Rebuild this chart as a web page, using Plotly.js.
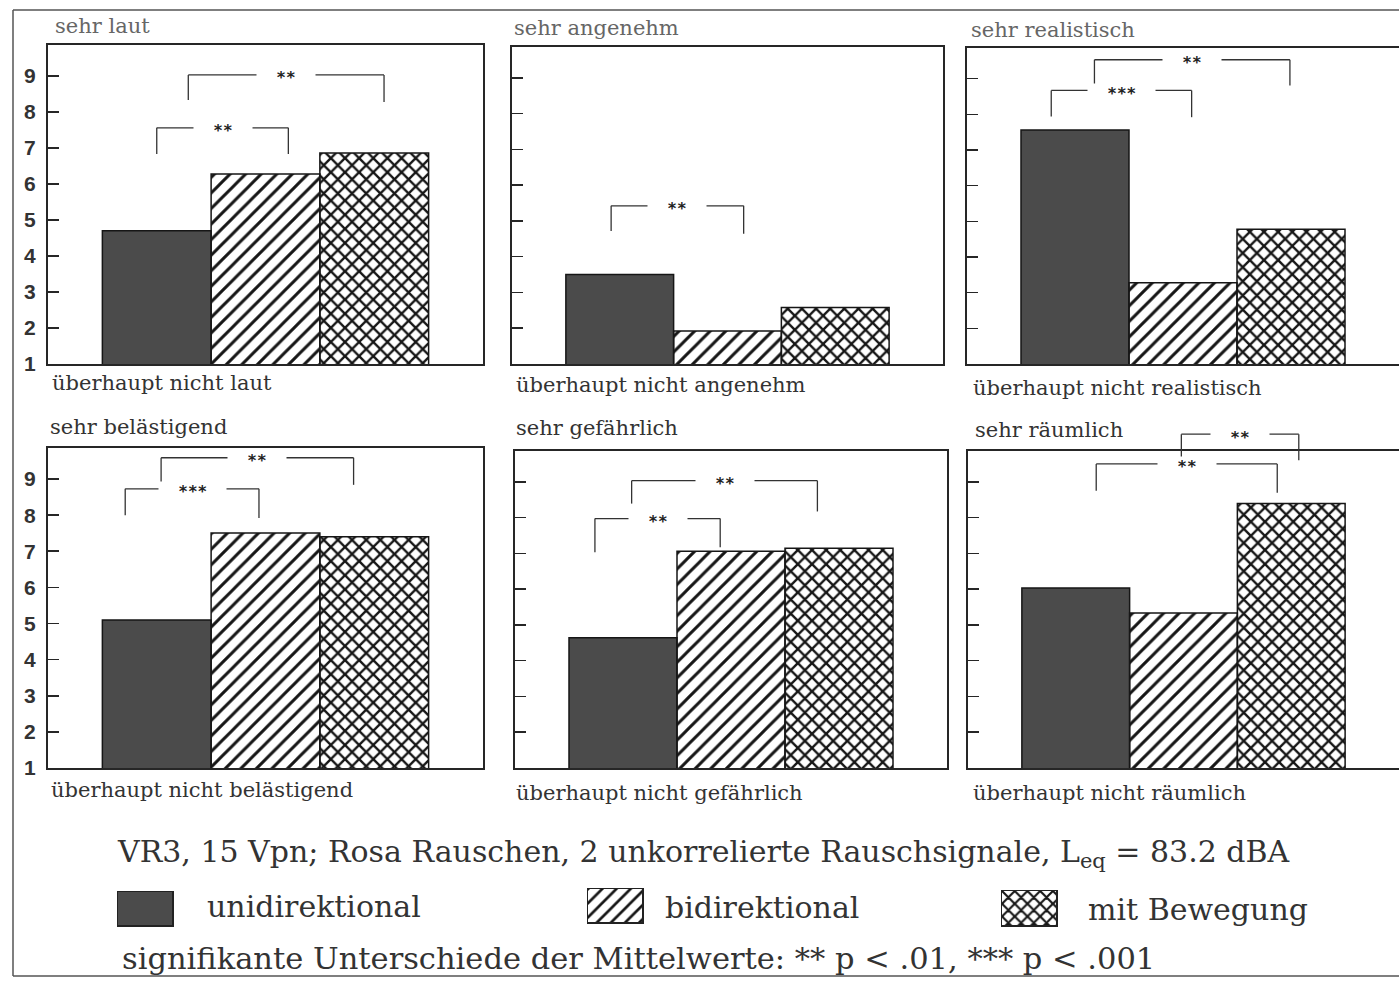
<!DOCTYPE html>
<html><head><meta charset="utf-8">
<script src="https://cdn.plot.ly/plotly-3.0.1.min.js"></script>
<style>html,body{margin:0;padding:0;background:#fff}#chart{width:1399px;height:988px}</style>
</head><body><div id="chart"></div>
<script>
// ---------------- data ----------------
const series = ['unidirektional', 'bidirektional', 'mit Bewegung'];
const topLabels = ['sehr laut', 'sehr angenehm', 'sehr realistisch', 'sehr belästigend', 'sehr gefährlich', 'sehr räumlich'];
const bottomLabels = ['überhaupt nicht laut', 'überhaupt nicht angenehm', 'überhaupt nicht realistisch',
  'überhaupt nicht belästigend', 'überhaupt nicht gefährlich', 'überhaupt nicht räumlich'];
const uni = [4.70, 3.50, 7.56, 5.10, 4.64, 6.03];
const bi  = [6.28, 1.92, 3.28, 7.51, 7.06, 5.33];
const mit = [6.86, 2.58, 4.78, 7.40, 7.14, 8.39];
const yTicks = [1, 2, 3, 4, 5, 6, 7, 8, 9];
// significance brackets per panel: [left x, right x, left leg end, right leg end, bracket level, label]
const brackets = [
  [[0.00, 1.21, 6.83, 6.83, 7.56, '**'], [0.29, 2.09, 8.33, 8.28, 9.03, '**']],
  [[-0.08, 1.15, 4.72, 4.64, 5.42, '**']],
  [[-0.22, 1.08, 7.94, 7.92, 8.67, '***'], [0.18, 1.99, 8.83, 8.81, 9.53, '**']],
  [[-0.29, 0.94, 8.00, 7.92, 8.73, '***'], [0.04, 1.81, 8.90, 8.84, 9.59, '**']],
  [[-0.26, 0.90, 7.03, 7.17, 7.97, '**'], [0.08, 1.80, 8.39, 8.17, 9.03, '**']],
  [[0.19, 1.87, 8.75, 8.69, 9.50, '**'], [0.98, 2.07, 9.55, 9.60, 10.33, '**']]
];
const captionLine1 = 'VR3, 15 Vpn; Rosa Rauschen, 2 unkorrelierte Rauschsignale, L<sub>eq</sub> = 83.2 dBA';
const captionLine2 = 'signifikante Unterschiede der Mittelwerte: ** p < .01, *** p < .001';

// ---------------- layout geometry (pixels) ----------------
const W = 1399, H = 988;
const px = v => v / W;
const py = v => 1 - v / H;
const YMIN = 1, YMAX = 9.86;
const yd = v => (v - YMIN) / (YMAX - YMIN);
const panels = [
  {x: [48, 483],  y: [45, 364],  ticks: true,  right: true,  top: [53, 26],  bot: [50, 383]},
  {x: [512, 943], y: [47, 364],  ticks: false, right: true,  top: [512, 28], bot: [514, 385]},
  {x: [967, 1399],y: [48, 364],  ticks: false, right: false, top: [969, 30], bot: [971, 388]},
  {x: [48, 483],  y: [448, 768], ticks: true,  right: true,  top: [48, 427], bot: [49, 790]},
  {x: [515, 947], y: [451, 768], ticks: false, right: true,  top: [514, 428], bot: [514, 793]},
  {x: [968, 1399],y: [451, 768], ticks: false, right: false, top: [973, 430], bot: [971, 793]}
];
const swatches = [
  {x: [118, 172], y: [892, 925], text: [205, 906]},
  {x: [588, 642], y: [889, 922], text: [663, 907]},
  {x: [1002, 1056], y: [891, 925], text: [1086, 909]}
];
const UNI_COLOR = '#4b4b4b', INK = '#161616', TEXT = '#333';
const seriesColor = [UNI_COLOR, INK, INK];
const seriesShape = ['', '/', 'x'];
const seriesSize = [8, 11, 10];
const seriesSolidity = [0.3, 0.27, 0.42];
const SERIF = 'DejaVu Serif';

const traces = [];
const layout = {
  width: W, height: H, margin: {l: 0, r: 0, t: 0, b: 0},
  paper_bgcolor: '#fff', plot_bgcolor: '#fff', showlegend: false,
  bargap: 0, shapes: [], annotations: []
};

panels.forEach((p, i) => {
  const n = i + 1, sx = n === 1 ? '' : String(n);
  traces.push({
    type: 'bar', x: [0, 1, 2], y: [uni[i], bi[i], mit[i]], width: 1,
    hovertext: series, hoverinfo: 'text+y',
    xaxis: 'x' + sx, yaxis: 'y' + sx,
    marker: {color: seriesColor, line: {color: INK, width: 1.5},
      pattern: {shape: seriesShape, size: seriesSize, solidity: seriesSolidity, bgcolor: '#fff'}}
  });
  layout['xaxis' + sx] = {
    domain: [px(p.x[0]), px(p.x[1])], range: [-1, 3], anchor: 'y' + sx,
    showline: true, mirror: true, linecolor: '#262626', linewidth: 2,
    showticklabels: false, ticks: '', showgrid: false, zeroline: false, fixedrange: true
  };
  layout['yaxis' + sx] = {
    domain: [py(p.y[1]), py(p.y[0])], range: [YMIN, YMAX], anchor: 'x' + sx,
    showline: true, mirror: p.right, linecolor: '#262626', linewidth: 2,
    ticks: 'inside', ticklen: 11, tickwidth: 1.6, tickcolor: '#262626',
    tickvals: yTicks, showticklabels: p.ticks, ticklabelstandoff: 6,
    tickfont: {family: 'Liberation Sans', size: 21, color: '#333', weight: 'bold'},
    showgrid: false, zeroline: false, fixedrange: true
  };
  layout.annotations.push({
    xref: 'paper', yref: 'paper', x: px(p.top[0]), y: py(p.top[1]), xanchor: 'left', yanchor: 'middle',
    text: topLabels[i], showarrow: false,
    font: {family: SERIF, size: 21, color: i < 3 ? '#666' : TEXT}
  });
  layout.annotations.push({
    xref: 'paper', yref: 'paper', x: px(p.bot[0]), y: py(p.bot[1]), xanchor: 'left', yanchor: 'middle',
    text: bottomLabels[i], showarrow: false,
    font: {family: SERIF, size: 21, color: TEXT}
  });
  brackets[i].forEach(b => {
    const xr = 'x' + sx, yr = 'y' + sx + ' domain';
    const ln = {color: '#333', width: 1.3};
    layout.shapes.push({type: 'line', xref: xr, yref: yr, x0: b[0], x1: b[0], y0: yd(b[2]), y1: yd(b[4]), line: ln});
    layout.shapes.push({type: 'line', xref: xr, yref: yr, x0: b[0], x1: b[1], y0: yd(b[4]), y1: yd(b[4]), line: ln});
    layout.shapes.push({type: 'line', xref: xr, yref: yr, x0: b[1], x1: b[1], y0: yd(b[3]), y1: yd(b[4]), line: ln});
    layout.annotations.push({
      xref: xr, yref: yr, x: (b[0] + b[1]) / 2, y: yd(b[4]), xanchor: 'center', yanchor: 'middle',
      text: '\u00a0\u00a0' + b[5] + '\u00a0\u00a0', showarrow: false, bgcolor: '#fff', borderpad: 0, yshift: -3,
      font: {family: 'DejaVu Sans Mono', size: 16, color: '#222', weight: 'bold'}
    });
  });
});

// legend swatches as tiny subplots
swatches.forEach((s, k) => {
  const n = 7 + k;
  traces.push({
    type: 'bar', x: [0], y: [1], width: 1, xaxis: 'x' + n, yaxis: 'y' + n,
    hovertext: [series[k]], hoverinfo: 'text',
    marker: {color: seriesColor[k], line: {width: 0},
      pattern: {shape: seriesShape[k], size: seriesSize[k] - 1, solidity: seriesSolidity[k], bgcolor: '#fff'}}
  });
  layout['xaxis' + n] = {domain: [px(s.x[0]), px(s.x[1])], range: [-0.5, 0.5], anchor: 'y' + n,
    showline: true, mirror: true, linecolor: '#222', linewidth: 1.5, showticklabels: false,
    ticks: '', showgrid: false, zeroline: false, fixedrange: true};
  layout['yaxis' + n] = {domain: [py(s.y[1]), py(s.y[0])], range: [0, 1], anchor: 'x' + n,
    showline: true, mirror: true, linecolor: '#222', linewidth: 1.5, showticklabels: false,
    ticks: '', showgrid: false, zeroline: false, fixedrange: true};
  layout.annotations.push({xref: 'paper', yref: 'paper', x: px(s.text[0]), y: py(s.text[1]),
    xanchor: 'left', yanchor: 'middle', text: series[k], showarrow: false,
    font: {family: SERIF, size: 30, color: TEXT}});
});

// caption
layout.annotations.push({xref: 'paper', yref: 'paper', x: px(115), y: py(853), xanchor: 'left', yanchor: 'middle',
  text: captionLine1, showarrow: false, font: {family: SERIF, size: 30, color: TEXT}});
layout.annotations.push({xref: 'paper', yref: 'paper', x: px(120), y: py(958), xanchor: 'left', yanchor: 'middle',
  text: captionLine2, showarrow: false, font: {family: SERIF, size: 30.5, color: TEXT}});

// outer frame
const frame = {color: '#555', width: 1.5};
layout.shapes.push({type: 'line', xref: 'paper', yref: 'paper', x0: px(13), x1: px(13), y0: py(10), y1: py(976), line: frame});
layout.shapes.push({type: 'line', xref: 'paper', yref: 'paper', x0: px(13), x1: 1, y0: py(10), y1: py(10), line: frame});
layout.shapes.push({type: 'line', xref: 'paper', yref: 'paper', x0: px(13), x1: 1, y0: py(976), y1: py(976), line: frame});

Plotly.newPlot('chart', traces, layout, {displayModeBar: false, staticPlot: true});
</script>
</body></html>
